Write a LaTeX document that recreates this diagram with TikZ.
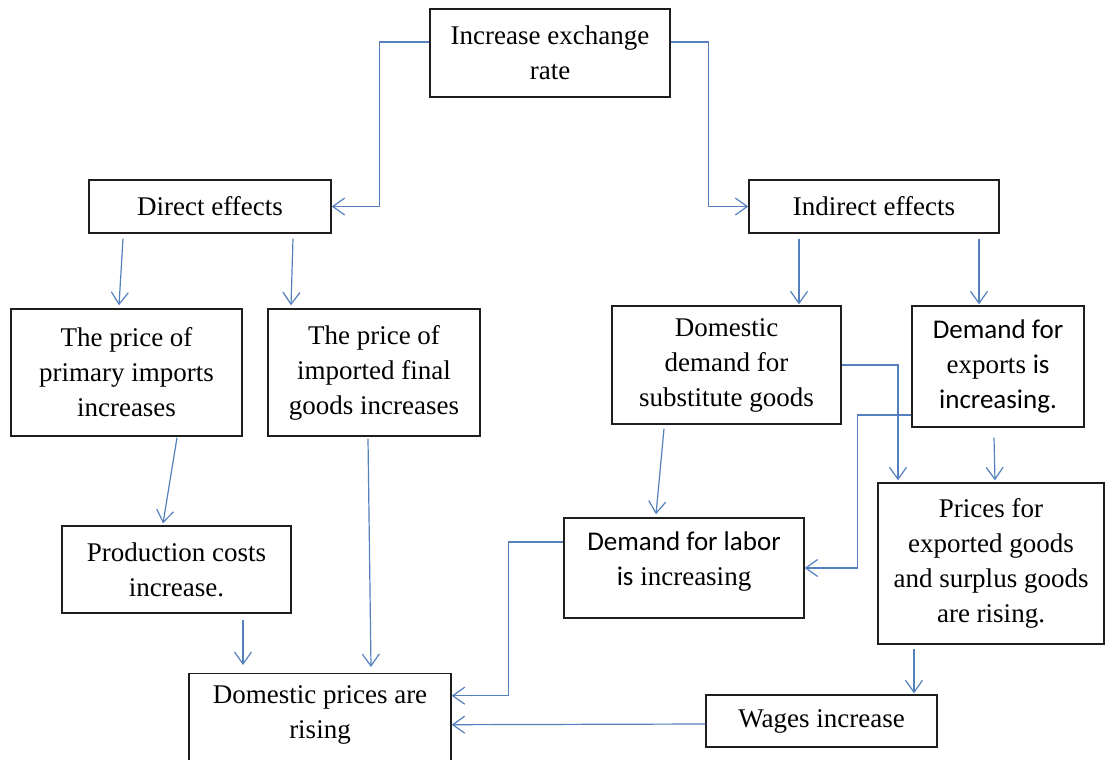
\documentclass[tikz,border=0pt]{standalone}
\usepackage{fontspec}
\setmainfont{Liberation Serif}
\newfontfamily\calib{Carlito}
\usetikzlibrary{arrows.meta}
\definecolor{connblue}{RGB}{84,128,190}
\definecolor{boxline}{RGB}{30,30,30}
\newcommand\dfont{\fontsize{27pt}{35pt}\selectfont}
\tikzset{
  box/.style={draw=boxline, line width=1.4pt, inner sep=0pt, align=center, font=\dfont, fill=white},
  txt/.style={inner sep=0pt, align=center, font=\dfont},
  conn/.style={draw=connblue, line width=1.2pt, -{Straight Barb[length=12pt,width=17pt,line width=1.2pt]}}
}
\begin{document}
\begin{tikzpicture}[x=1pt,y=-1pt]
\useasboundingbox[fill=white] (0,0) rectangle (1108,760);
\begin{scope}
\clip (0,0) rectangle (1108,760);
% boxes
\node[box, minimum width=240pt, minimum height=88pt] (top) at (550,53) {Increase exchange\\rate};
\node[box, minimum width=242pt, minimum height=53pt] (direct) at (210,206.5) {Direct effects};
\node[box, minimum width=250pt, minimum height=53pt] (indirect) at (874,206.5) {Indirect effects};
\node[box, minimum width=231pt, minimum height=127pt] (primary) at (126.5,372.5) {The price of\\primary imports\\increases};
\node[box, minimum width=212pt, minimum height=127pt] (imported) at (374,372.5) {The price of\\imported final\\goods increases};
\node[box, minimum width=229pt, minimum height=87pt] (production) at (176.5,569.5) {Production costs\\increase.};
\node[box, anchor=north, minimum width=262pt, minimum height=110pt] (dp) at (320,673) {};
\node[txt] (dptext) at (320,715) {Domestic prices are\\rising};
\node[box, minimum width=229pt, minimum height=118pt] (domdem) at (726.5,365) {Domestic\\demand for\\substitute goods};
\node[box, minimum width=172pt, minimum height=121pt] (exports) at (998,366.5) {{\calib Demand for}\\exports {\calib is}\\{\calib increasing.}};
\node[box, minimum width=240pt, minimum height=100pt] (labor) at (684,568) {};
\node[txt] (labortext) at (684,562) {{\calib Demand for labor}\\{\calib is} increasing};
\node[box, minimum width=226pt, minimum height=161pt] (prices) at (991,563.5) {Prices for\\exported goods\\and surplus goods\\are rising.};
\node[box, minimum width=231pt, minimum height=52pt] (wages) at (821.5,721) {Wages increase};
% connectors
\draw[conn] ([yshift=11pt]top.west) -- ++(-50,0) |- (direct.east);
\draw[conn] ([yshift=11pt]top.east) -- ++(38,0) |- (indirect.west);
\draw[conn] ([xshift=-87pt,yshift=-5pt]direct.south) -- ([xshift=-7.5pt,yshift=3pt]primary.north);
\draw[conn] ([xshift=83pt,yshift=-5pt]direct.south) -- ([xshift=-83pt,yshift=3pt]imported.north);
\draw[conn] ([xshift=50.5pt,yshift=-1pt]primary.south) -- ([xshift=-13.5pt,yshift=2pt]production.north);
\draw[conn] ([xshift=66.5pt,yshift=-6pt]production.south) -- ([xshift=-77pt,yshift=8pt]dp.north);
\draw[conn] ([xshift=-6pt,yshift=-2pt]imported.south) -- ([xshift=51pt,yshift=6pt]dp.north);
\draw[conn] ([xshift=-75pt,yshift=-5pt]indirect.south) -- ([xshift=72.5pt,yshift=1pt]domdem.north);
\draw[conn] ([xshift=105pt,yshift=-5pt]indirect.south) -- ([xshift=-19pt,yshift=1pt]exports.north);
\draw[conn] ([xshift=-62.5pt,yshift=-4pt]domdem.south) -- ([xshift=-28pt,yshift=3pt]labor.north);
\draw[conn] (domdem.east) -| ([xshift=-93pt,yshift=2pt]prices.north);
\draw[conn] ([yshift=-48.5pt]exports.west) -- ++(-54,0) |- (labor.east);
\draw[conn] ([xshift=-4pt,yshift=-10pt]exports.south) -- ([xshift=4pt,yshift=2pt]prices.north);
\draw[conn] ([yshift=26pt]labor.west) -- ++(-55,0) |- ([yshift=33pt]dp.east);
\draw[conn] ([xshift=-77pt,yshift=-4pt]prices.south) -- ([xshift=92.5pt,yshift=1pt]wages.north);
\draw[conn] ([yshift=-3pt]wages.west) -- ([yshift=4pt]dp.east);
\end{scope}
\end{tikzpicture}
\end{document}
